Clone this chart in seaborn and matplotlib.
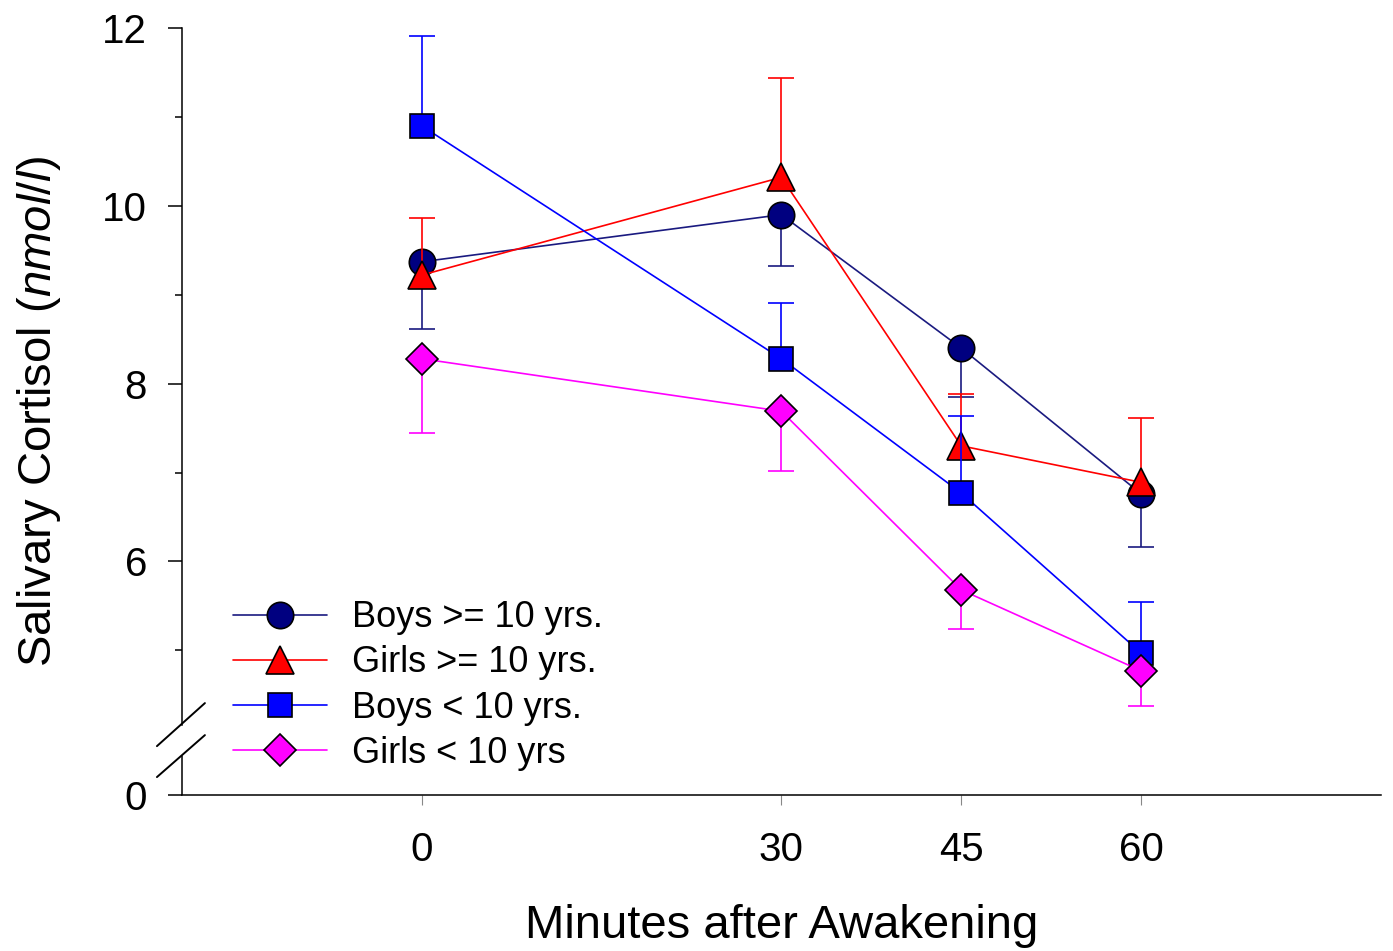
import numpy as np
import pandas as pd
import seaborn as sns
import matplotlib.pyplot as plt

# data
minutes = [0, 30, 45, 60]
labels = ["Boys >= 10 yrs.", "Girls >= 10 yrs.", "Boys < 10 yrs.", "Girls < 10 yrs"]
boys_old = [9.37, 9.90, 8.40, 6.76]
boys_old_err = [0.76, 0.58, 0.55, 0.60]      # drawn downward
girls_old = [9.22, 10.32, 7.30, 6.89]
girls_old_err = [0.64, 1.12, 0.58, 0.72]     # drawn upward
boys_young = [10.90, 8.28, 6.77, 4.97]
boys_young_err = [1.01, 0.63, 0.87, 0.57]    # drawn upward
girls_young = [8.28, 7.69, 5.68, 4.77]
girls_young_err = [0.83, 0.67, 0.44, 0.40]   # drawn downward

series = [
    (labels[0], boys_old, boys_old_err, -1, "#1a1a80", "#000080", "o", 19),
    (labels[1], girls_old, girls_old_err, 1, "#ff0000", "#ff0000", "^", 20),
    (labels[2], boys_young, boys_young_err, 1, "#0000ff", "#0000ff", "s", 17),
    (labels[3], girls_young, girls_young_err, -1, "#ff00ff", "#ff00ff", "D", 16),
]

sns.set_style("ticks")
plt.rcParams['font.family'] = ['Liberation Sans', 'DejaVu Sans']
plt.rcParams['mathtext.fontset'] = 'custom'
plt.rcParams['mathtext.rm'] = 'Liberation Sans'
plt.rcParams['mathtext.it'] = 'Liberation Sans:italic'
plt.rcParams['text.color'] = 'black'
plt.rcParams['axes.labelcolor'] = 'black'
plt.rcParams['xtick.labelcolor'] = 'black'
plt.rcParams['ytick.labelcolor'] = 'black'

fig = plt.figure(figsize=(13.93, 9.51), dpi=100)
ax = fig.add_axes([0.1304, 0.164, 0.861, 0.8066])

for name, vals, err, sign, lc, fc, mk, ms in series:
    vals = np.array(vals)
    ends = vals + sign * np.array(err)
    ax.vlines(minutes, vals, ends, color=lc, linewidth=1.2)
    ax.plot(minutes, ends, linestyle="none", marker="_", markersize=19,
            markeredgewidth=1.2, color=lc)
    df = pd.DataFrame({"min": minutes, "val": vals})
    sns.lineplot(data=df, x="min", y="val", ax=ax, color=lc, linewidth=1.2,
                 marker=mk, markersize=ms, markerfacecolor=fc,
                 markeredgecolor="black", markeredgewidth=1.2, label=name)

y_bottom = 3.373
ax.set_xlim(-20, 80)
ax.set_ylim(y_bottom, 12)
ax.set_xticks(minutes)
ax.set_xticklabels([str(m) for m in minutes])
ax.set_yticks([y_bottom, 6, 8, 10, 12])
ax.set_yticklabels(["0", "6", "8", "10", "12"])
ax.set_yticks([5, 7, 9, 11], minor=True)
ax.tick_params(axis="y", which="major", length=10, width=1.1, labelsize=29, pad=15, color="black")
ax.tick_params(axis="y", which="minor", length=5, width=1.1, color="black")
ax.tick_params(axis="x", which="major", length=7, width=0.8, labelsize=29, pad=19, color="#888888")

for s in ["top", "right"]:
    ax.spines[s].set_visible(False)
ax.spines["left"].set_linewidth(1.1)
ax.spines["bottom"].set_linewidth(1.1)
ax.spines["left"].set_color("black")
ax.spines["bottom"].set_color("black")
ax.spines["left"].set_bounds(4.165, 12)

# lower piece of the broken axis and the break marks
yt = ax.get_yaxis_transform()
ax.plot([0, 0], [y_bottom, 3.81], color="black", linewidth=1.1, transform=yt, clip_on=False)
ax.plot([-0.0206, 0.0194], [3.923, 4.407], color="black", linewidth=1.4, transform=yt, clip_on=False)
ax.plot([-0.0206, 0.0194], [3.575, 4.047], color="black", linewidth=1.4, transform=yt, clip_on=False)

ax.set_xlabel("Minutes after Awakening", fontsize=34, labelpad=25)
ax.set_ylabel("Salivary Cortisol $\\mathit{(nmol/l)}$", fontsize=34, labelpad=28)

ax.legend(loc="center left", bbox_to_anchor=(0.0425, 0.1428), frameon=False,
          fontsize=26, handlelength=2.6, handletextpad=0.7, labelspacing=0.28,
          borderpad=0, borderaxespad=0)

plt.savefig("out.png", dpi=100)
